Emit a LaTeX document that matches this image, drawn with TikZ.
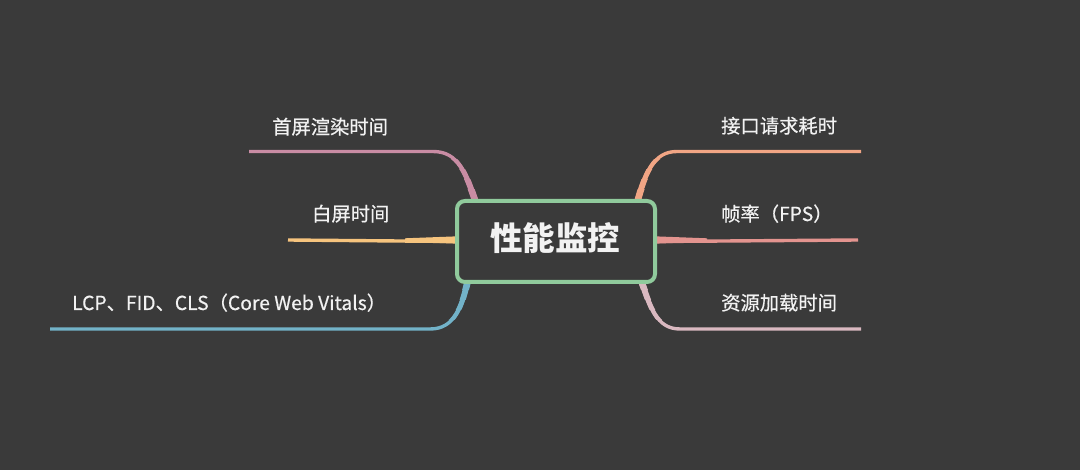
\documentclass[tikz,border=0pt]{standalone}
\usepackage{fontspec}
\setmainfont{Noto Sans CJK SC}
\newfontfamily\lblfont{Noto Sans CJK SC}[FakeBold=0.5]
\definecolor{bg}{HTML}{3A3A3A}
\definecolor{txt}{HTML}{F2F2F2}
\definecolor{cgreen}{HTML}{90CA9C}
\definecolor{cpink}{HTML}{C98CA4}
\definecolor{cyel}{HTML}{F6C47E}
\definecolor{cblue}{HTML}{72B2C8}
\definecolor{corange}{HTML}{F1A584}
\definecolor{cred}{HTML}{E3948F}
\definecolor{clpink}{HTML}{D9B8C0}
\pgfdeclarelayer{bgl}
\pgfdeclarelayer{back}
\pgfsetlayers{bgl,back,main}
% tapered drawing of a curve: #1 colour, #2 curve path, #3 clip rectangles list as y ranges
\newcommand\taper[4]{%
  \begin{scope}\clip (0,#3) rectangle (1080,#4);
  \draw[line width=4.3pt,#1] #2;\end{scope}}
\begin{document}
\begin{tikzpicture}[x=1pt,y=-1pt,
  lbl/.style={font=\lblfont\fontsize{19.3}{22}\selectfont, text=txt, inner sep=0pt, anchor=base west},
  br/.style={line width=3.4pt}]
\begin{pgfonlayer}{bgl}
\fill[bg] (0,0) rectangle (1080,470);
\end{pgfonlayer}
\useasboundingbox (0,0) rectangle (1080,470);
\node[draw=cgreen, line width=4pt, rounded corners=8pt, minimum width=198pt, minimum height=81pt, fill=bg, inner sep=0pt] (c) at (556,241.5) {};
\node[font=\fontsize{32.5}{36}\selectfont\bfseries, text=txt, anchor=base, inner sep=0pt] (ct) at (555,250.5) {性能监控};
% labels
\node[lbl] (l1) at (272,134) {首屏渲染时间};
\node[lbl] (l2) at (312,221) {白屏时间};
\node[lbl] (l3) at (72,310) {LCP、FID、CLS（Core Web Vitals）};
\node[lbl] (r1) at (721,133) {接口请求耗时};
\node[lbl] (r2) at (721,221) {帧率（FPS）};
\node[lbl] (r3) at (721,310) {资源加载时间};
% branch ends
\coordinate (e1) at (249,151.5);
\coordinate (e2) at (288,240);
\coordinate (e3) at (50,329);
\coordinate (f1) at (861,151.5);
\coordinate (f2) at (858,240);
\coordinate (f3) at (861,329);
% attachment points on the central node
\coordinate (a1) at ([xshift=21pt,yshift=-4pt]c.north west);
\coordinate (a3) at ([xshift=13pt,yshift=4pt]c.south west);
\coordinate (b1) at ([xshift=-20pt,yshift=-4pt]c.north east);
\coordinate (b3) at ([xshift=-16pt,yshift=4pt]c.south east);
\def\cA{(433,151.5) .. controls (459,151.5) and (466,174) .. (a1)}
\def\cC{(430,329) .. controls (455,329) and (462,306) .. (a3)}
\def\cD{(677,151.5) .. controls (653,151.5) and (645,174) .. (b1)}
\def\cF{(680,329) .. controls (656,329) and (650,306) .. (b3)}
\begin{pgfonlayer}{back}
% top-left
\draw[br,cpink] (e1) -- \cA;
\foreach \w/\ya in {4.2/160,5/170,5.8/180,6.6/190}{
  \begin{scope}\clip (0,\ya) rectangle (1080,215); \draw[line width=\w pt,cpink] \cA; \end{scope}}
% left middle (tapered)
\draw[br,cyel] (e2) -- (c.west);
\fill[cyel] (405,238.3) -- (458,236.3) -- (458,243.7) -- (405,241.7) -- cycle;
% bottom-left
\draw[br,cblue] (e3) -- \cC;
\foreach \w/\ya in {4.2/320,5/310,5.8/300,6.6/290}{
  \begin{scope}\clip (0,270) rectangle (1080,\ya); \draw[line width=\w pt,cblue] \cC; \end{scope}}
% top-right
\draw[br,corange] (f1) -- \cD;
\foreach \w/\ya in {4.2/160,5/170,5.8/180,6.6/190}{
  \begin{scope}\clip (0,\ya) rectangle (1080,215); \draw[line width=\w pt,corange] \cD; \end{scope}}
% right middle
\draw[br,cred] (f2) -- (c.east);
\fill[cred] (707,238.3) -- (654,236.3) -- (654,243.7) -- (707,241.7) -- cycle;
% bottom-right
\draw[br,clpink] (f3) -- \cF;
\foreach \w/\ya in {4.2/320,5/310,5.8/300,6.6/290}{
  \begin{scope}\clip (0,270) rectangle (1080,\ya); \draw[line width=\w pt,clpink] \cF; \end{scope}}
\end{pgfonlayer}
\end{tikzpicture}
\end{document}
